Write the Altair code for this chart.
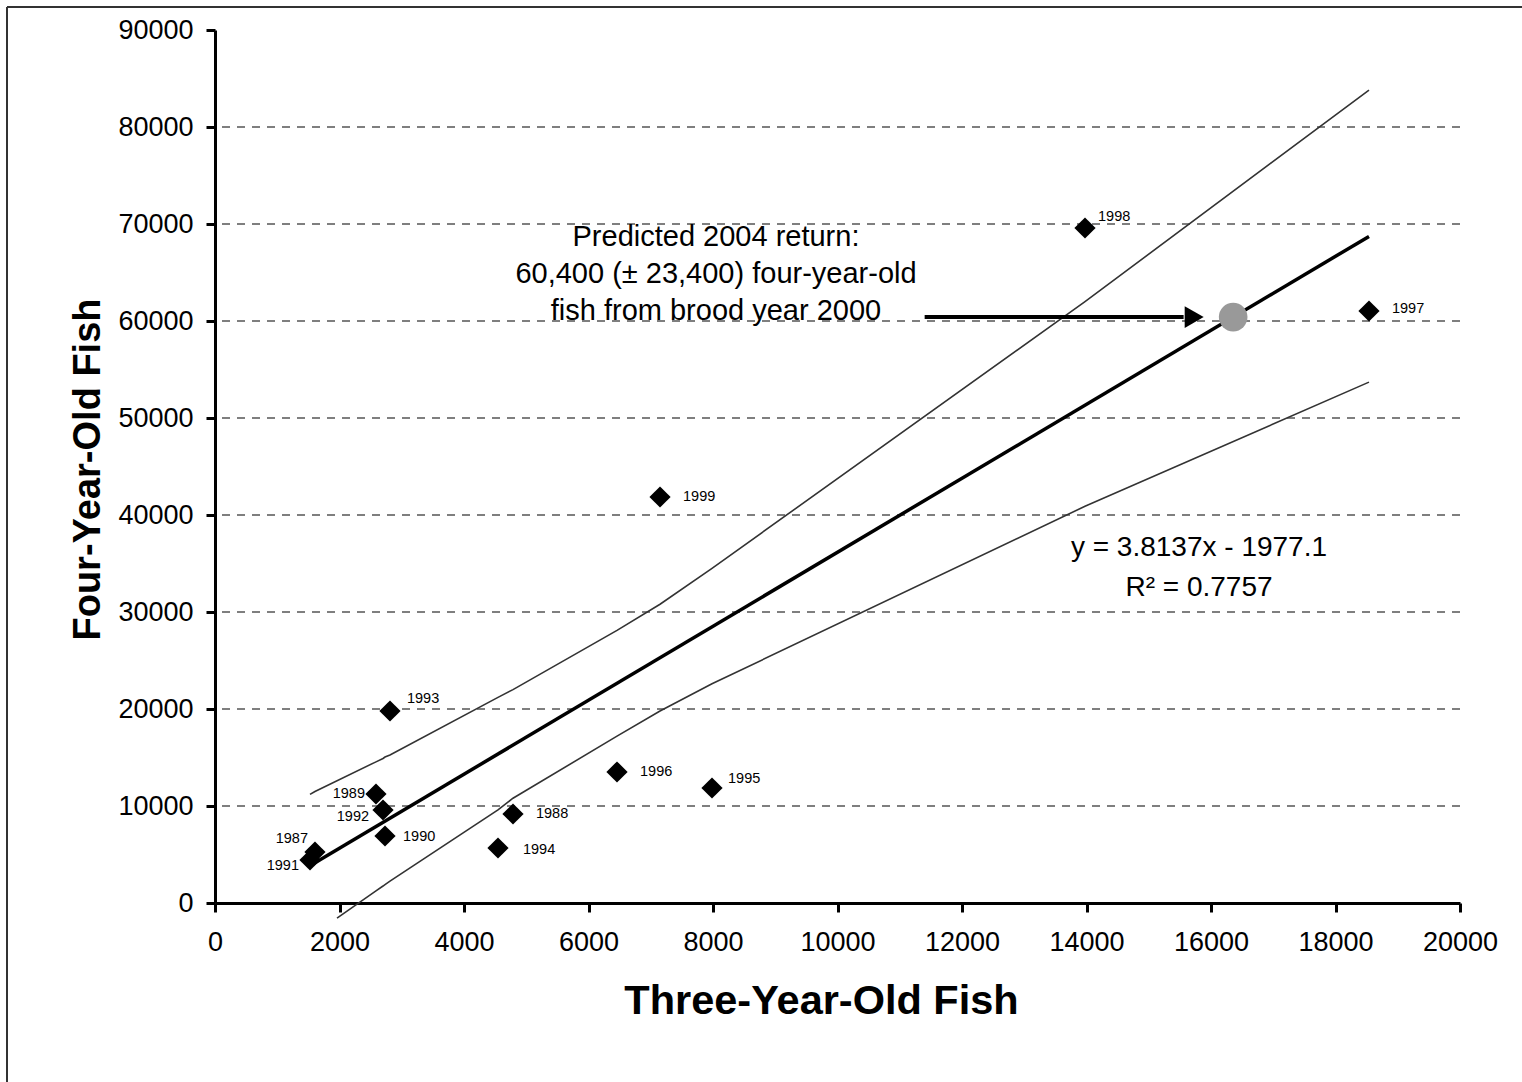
import altair as alt
import pandas as pd

# Brood-year returns: three-year-old vs four-year-old fish
years = [1987, 1988, 1989, 1990, 1991, 1992, 1993, 1994, 1995, 1996, 1997, 1998, 1999]
three_year = [1606, 4787, 2586, 2731, 1526, 2699, 2811, 4546, 7984, 6458, 18538, 13976, 7149]
four_year = [5258, 9175, 11237, 6907, 4433, 9588, 19794, 5670, 11856, 13505, 61031, 69588, 41856]

# Interval bands around the fit
upper_x = [1526, 1606, 2586, 2699, 2731, 2811, 4546, 4787, 6458, 7149, 7984, 13976, 18538]
upper_y = [11200, 11500, 14550, 14900, 15050, 15250, 21200, 22000, 28100, 30800, 34500, 62000, 83800]
lower_x = [1960, 2586, 2699, 2731, 2811, 4546, 4787, 6458, 7149, 7984, 13976, 18538]
lower_y = [-1550, 1250, 1750, 1900, 2250, 9600, 10800, 17200, 19800, 22600, 40900, 53700]

# Linear fit y = slope * x + intercept
slope = 3.8137
intercept = -1977.1
r_squared = 0.7757

# Prediction for the 2000 brood year
predicted = 60400
predicted_err = 23400

x_ticks = [0, 2000, 4000, 6000, 8000, 10000, 12000, 14000, 16000, 18000, 20000]
y_ticks = [0, 10000, 20000, 30000, 40000, 50000, 60000, 70000, 80000, 90000]
grid_lines = [10000, 20000, 30000, 40000, 50000, 60000, 70000, 80000]

FONT = "Liberation Sans"

points = pd.DataFrame({"year": years, "three": three_year, "four": four_year})
bands = pd.concat([
    pd.DataFrame({"band": "upper", "three": upper_x, "four": upper_y}),
    pd.DataFrame({"band": "lower", "three": lower_x, "four": lower_y}),
])
fit_x = [min(three_year), max(three_year)]
fit = pd.DataFrame({"three": fit_x, "four": [slope * v + intercept for v in fit_x]})
pred_x = (predicted - intercept) / slope
pred = pd.DataFrame({"three": [pred_x], "four": [predicted]})
arrow = pd.DataFrame({"three": [11400], "three2": [15560], "four": [predicted]})
arrow_head = pd.DataFrame({"three": [15730], "four": [predicted]})
grid = pd.DataFrame({"four": grid_lines})
one = pd.DataFrame({"k": [0]})

xscale = alt.Scale(domain=[0, 20000], nice=False, zero=False)
yscale = alt.Scale(domain=[0, 90000], nice=False, zero=False)

x_axis = alt.Axis(
    values=x_ticks, format="d", title="Three-Year-Old Fish",
    labelFontSize=27, labelFont=FONT, labelColor="black", labelFlush=False,
    labelOverlap=False, labelPadding=17,
    tickColor="black", tickWidth=3, tickSize=9,
    domainColor="black", domainWidth=3, grid=False,
    titleFontSize=41.5, titleFont=FONT, titleFontWeight="bold", titleColor="black",
    titleX=606, titleY=98, titleAlign="center", titleBaseline="middle",
)
y_axis = alt.Axis(
    values=y_ticks, format="d", title="Four-Year-Old Fish",
    labelFontSize=27, labelFont=FONT, labelColor="black", labelFlush=False,
    labelOverlap=False, labelPadding=13,
    tickColor="black", tickWidth=3, tickSize=9,
    domainColor="black", domainWidth=3, grid=False,
    titleFontSize=38, titleFont=FONT, titleFontWeight="bold", titleColor="black",
    titleX=-127, titleY=439, titleAlign="center", titleBaseline="middle",
)

X = lambda: alt.X("three:Q", scale=xscale, axis=x_axis)
Y = lambda: alt.Y("four:Q", scale=yscale, axis=y_axis)

gridlines = alt.Chart(grid).mark_rule(color="black", strokeWidth=1.1, strokeDash=[8, 7]).encode(
    y=alt.Y("four:Q", scale=yscale)
)

band_lines = alt.Chart(bands).mark_line(color="#333333", strokeWidth=1.6).encode(
    x=X(), y=Y(), detail="band:N", order="three:Q"
)

fit_line = alt.Chart(fit).mark_line(color="black", strokeWidth=3.5).encode(x=X(), y=Y())

arrow_line = alt.Chart(arrow).mark_rule(color="black", strokeWidth=4).encode(
    x=X(), x2="three2:Q", y=Y()
)
arrow_tip = alt.Chart(arrow_head).mark_point(
    shape="triangle-right", size=480, filled=True, color="black", opacity=1, strokeWidth=0
).encode(x=X(), y=Y())

pred_dot = alt.Chart(pred).mark_point(
    shape="circle", size=820, filled=True, color="#999999", opacity=1, strokeWidth=0
).encode(x=X(), y=Y())

diamonds = alt.Chart(points).mark_point(
    shape="diamond", size=450, filled=True, color="black", opacity=1, strokeWidth=0
).encode(x=X(), y=Y())

# year label placement (dx, dy, align)
label_pos = {
    1987: (-7, -13, "right"), 1988: (23, 0, "left"), 1989: (-11, 0, "right"),
    1990: (18, 1, "left"), 1991: (-11, 6, "right"), 1992: (-14, 7, "right"),
    1993: (17, -12, "left"), 1994: (25, 2, "left"), 1995: (16, -9, "left"),
    1996: (23, 0, "left"), 1997: (23, -2, "left"), 1998: (13, -11, "left"),
    1999: (23, 0, "left"),
}
year_labels = [
    alt.Chart(points).transform_filter(alt.datum.year == yr).mark_text(
        dx=dx, dy=dy, align=al, baseline="middle", fontSize=14.5, font=FONT, color="black"
    ).encode(x=X(), y=Y(), text="year:N")
    for yr, (dx, dy, al) in label_pos.items()
]

note = pd.DataFrame({"three": [8048], "four": [68700]})
note_text = alt.Chart(note).mark_text(
    text=[
        "Predicted 2004 return:",
        f"{predicted:,} (± {predicted_err:,}) four-year-old",
        "fish from brood year 2000",
    ],
    align="center", baseline="middle", fontSize=29, font=FONT, color="black", lineHeight=37,
).encode(x=X(), y=Y())

eq = pd.DataFrame({"three": [15807], "four": [36600]})
eq_text = alt.Chart(eq).mark_text(
    text=[f"y = {slope}x - {abs(intercept)}", f"R² = {r_squared}"],
    align="center", baseline="middle", fontSize=28, font=FONT, color="black", lineHeight=40,
).encode(x=X(), y=Y())

# outer border of the figure
frame_left = alt.Chart(one).mark_rule(color="#333333", strokeWidth=2).encode(
    x=alt.value(-208), y=alt.value(-23), y2=alt.value(1100)
)
frame_top = alt.Chart(one).mark_rule(color="#333333", strokeWidth=2).encode(
    x=alt.value(-208), x2=alt.value(1400), y=alt.value(-23)
)

chart = alt.layer(
    frame_left, frame_top, gridlines, band_lines, fit_line, arrow_line, arrow_tip,
    pred_dot, diamonds, *year_labels, note_text, eq_text,
).properties(
    width=1245, height=873,
    padding={"left": 215, "top": 30, "right": 62, "bottom": 179},
    autosize=alt.AutoSizeParams(type="none"),
    background="white",
).configure_view(strokeWidth=0)

chart.save("out.html", embed_options={"renderer": "svg", "actions": False})
